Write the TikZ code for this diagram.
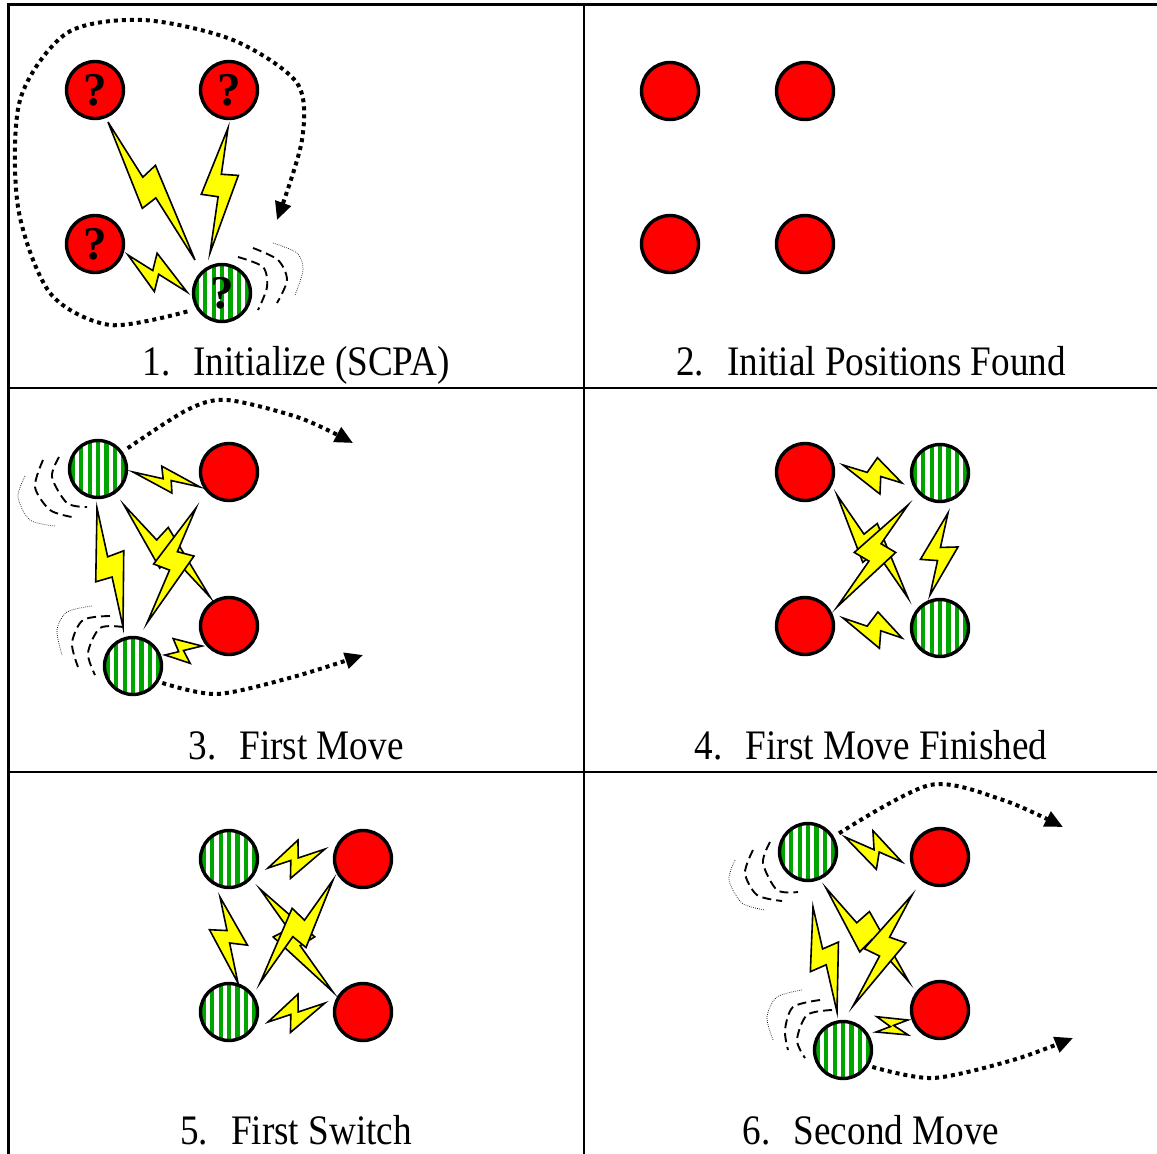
\documentclass[tikz,border=0pt]{standalone}
\usepackage{fontspec}
\setmainfont{Liberation Serif}
\newfontfamily\labelfont[FakeStretch=0.885]{Liberation Serif}
\usetikzlibrary{calc,arrows.meta}

\definecolor{ballred}{RGB}{255,0,0}
\definecolor{boltyellow}{RGB}{255,255,0}
\definecolor{stripegreen}{RGB}{0,165,0}

\tikzset{
  ball/.style={circle, draw=black, line width=3.4pt, minimum size=57pt, inner sep=0pt},
  redball/.style={ball, fill=ballred},
  greenball/.style={ball, fill=white, path picture={
      \foreach \k in {-4,...,4}
        \fill[stripegreen] ([xshift=\k*8.4pt-2.1pt]path picture bounding box.south)
          rectangle ([xshift=\k*8.4pt+2.1pt]path picture bounding box.north);
    }},
  qm/.style={font=\fontsize{47}{47}\selectfont\bfseries},
  boltstyle/.style={draw=black, fill=boltyellow, line width=1.6pt, line join=miter},
  motion/.style={line width=4pt, dash pattern=on 4pt off 4pt,
    -{Triangle[length=18pt,width=16pt]}},
  wake/.style={line width=1.9pt, dash pattern=on 9pt off 5pt},
  wakefaint/.style={line width=0.7pt, dash pattern=on 0.7pt off 1.3pt},
  gridline/.style={line width=2.2pt},
  caption/.style={font=\labelfont\fontsize{42}{42}\selectfont, anchor=base}
}

% lightning bolt from #1 to #2: on-axis notch at #3, side jog at #4,
% second on-axis notch at #5, second jog at #6, jog offset #7 (sign mirrors)
\newcommand\zap[7]{%
  \draw[boltstyle] (#1) -- ($(#1)!#3!(#2)$) -- ($(#1)!#4!(#2)!#7!90:(#2)$)
    -- (#2) -- ($(#1)!#5!(#2)$) -- ($(#1)!#6!(#2)!#7!-90:(#2)$) -- cycle;}

\begin{document}
\begin{tikzpicture}[x=1pt,y=-1pt]
\useasboundingbox (0,0) rectangle (1157,1154);

% table rules
\draw[gridline] (8.5,1154) -- (8.5,4.5) -- (1157,4.5);
\draw[gridline] (584,4.5) -- (584,1154);
\draw[gridline] (8.5,388) -- (1157,388);
\draw[gridline] (8.5,772) -- (1157,772);

% ---------- 1. Initialize ----------
\node[redball,qm] (p1a) at (95,90) {?};
\node[redball,qm] (p1b) at (229,90) {?};
\node[redball,qm] (p1c) at (95,244) {?};
\node[greenball,qm] (p1g) at (222,293) {?};
\zap{108,122}{195,260}{0.40}{0.38}{0.55}{0.56}{17pt}
\zap{228,128}{210,253}{0.37}{0.36}{0.55}{0.55}{17pt}
\zap{128,255}{187,292}{0.42}{0.34}{0.52}{0.60}{17pt}
\draw[wake] plot[smooth] coordinates {(238,257) (263,267) (267,287) (258,310)};
\draw[wake] plot[smooth] coordinates {(253,248) (278,260) (287,280) (277,303)};
\draw[wakefaint] plot[smooth] coordinates {(273,243) (297,253) (303,270) (295,295)};
\coordinate (p1s) at ($(p1g)!1.3!(p1g.208)$);
\coordinate (p1e) at (277,220);
\draw[motion] plot[smooth] coordinates {(p1s) (110,325) (50,293) (18,207) (20,100)
  (67,33) (143,20) (233,40) (297,83) (302,140) (p1e)};
\node[caption] (c1) at (296,375) {1.\hspace{0.55em}Initialize (SCPA)};

% ---------- 2. Initial positions ----------
\node[redball] (p2a) at (670,91) {};
\node[redball] (p2b) at (805,91) {};
\node[redball] (p2c) at (670,244) {};
\node[redball] (p2d) at (805,244) {};
\node[caption] (c2) at (871,375) {2.\hspace{0.55em}Initial Positions Found};

% ---------- 3. First move ----------
\node[greenball] (p3g1) at (98,469) {};
\node[redball] (p3r1) at (229,472) {};
\node[redball] (p3r2) at (229,626) {};
\node[greenball] (p3g2) at (133,666) {};
\zap{133,472}{200,487}{0.45}{0.39}{0.57}{0.62}{12pt}
\zap{97,508}{123,627}{0.41}{0.39}{0.58}{0.59}{17pt}
\zap{124,505}{210,597}{0.38}{0.37}{0.55}{0.56}{17pt}
\zap{196,508}{147,623}{0.38}{0.36}{0.54}{0.545}{17pt}
\zap{165,655}{202,646}{0.37}{0.31}{0.50}{0.59}{14pt}
\draw[wake] plot[smooth] coordinates {(59,457) (52,477) (67,503) (87,507)};
\draw[wake] plot[smooth] coordinates {(43,460) (35,487) (50,510) (72,517)};
\draw[wakefaint] plot[smooth] coordinates {(25,476) (18,497) (30,520) (55,526)};
\draw[wake] plot[smooth] coordinates {(123,627) (100,628) (88,653) (95,675)};
\draw[wake] plot[smooth] coordinates {(110,616) (83,620) (72,643) (78,667)};
\draw[wakefaint] plot[smooth] coordinates {(92,606) (67,612) (57,630) (62,655)};
\coordinate (p3s1) at ($(p3g1)!1.2!(p3g1.35)$);
\coordinate (p3e1) at (353,443);
\draw[motion] plot[smooth] coordinates {(p3s1) (187,410) (227,400) (300,418) (p3e1)};
\coordinate (p3s2) at ($(p3g2)!1.12!(p3g2.-30)$);
\coordinate (p3e2) at (363,655);
\draw[motion] plot[smooth] coordinates {(p3s2) (217,694) (293,677) (p3e2)};
\node[caption] (c3) at (296,759) {3.\hspace{0.55em}First Move};

% ---------- 4. First move finished ----------
\node[redball] (p4r1) at (805,472) {};
\node[greenball] (p4g1) at (940,473) {};
\node[redball] (p4r2) at (805,626) {};
\node[greenball] (p4g2) at (940,628) {};
\zap{843,465}{902,483}{0.41}{0.50}{0.64}{0.71}{17pt}
\zap{843,618}{902,638}{0.41}{0.50}{0.64}{0.71}{17pt}
\zap{948,513}{930,595}{0.42}{0.37}{0.58}{0.61}{17pt}
\zap{837,495}{908,598}{0.38}{0.37}{0.55}{0.56}{17pt}
\zap{908,505}{837,607}{0.38}{0.37}{0.55}{0.56}{17pt}
\node[caption] (c4) at (871,759) {4.\hspace{0.55em}First Move Finished};

% ---------- 5. First switch ----------
\node[greenball] (p5g1) at (229,859) {};
\node[redball] (p5r1) at (363,859) {};
\node[greenball] (p5g2) at (229,1012) {};
\node[redball] (p5r2) at (363,1012) {};
\zap{268,868}{325,849}{0.40}{0.30}{0.53}{0.62}{-17pt}
\zap{268,1022}{325,1003}{0.40}{0.30}{0.53}{0.62}{-17pt}
\zap{220,897}{238,983}{0.39}{0.34}{0.535}{0.60}{-17pt}
\zap{260,889}{333,992}{0.39}{0.37}{0.55}{0.56}{-17pt}
\zap{333,880}{260,983}{0.39}{0.37}{0.55}{0.56}{-17pt}
\node[caption] (c5) at (296,1144) {5.\hspace{0.55em}First Switch};

% ---------- 6. Second move ----------
\node[greenball] (p6g1) at (808,852) {};
\node[redball] (p6r1) at (940,857) {};
\node[redball] (p6r2) at (940,1010) {};
\node[greenball] (p6g2) at (843,1050) {};
\zap{845,837}{902,862}{0.51}{0.37}{0.60}{0.67}{17pt}
\zap{813,907}{837,1012}{0.40}{0.37}{0.55}{0.58}{17pt}
\zap{826,888}{909,982}{0.37}{0.37}{0.55}{0.56}{17pt}
\zap{912,895}{853,1006}{0.38}{0.36}{0.55}{0.555}{17pt}
\zap{876,1032}{908,1020}{0.45}{0.18}{0.55}{0.85}{14pt}
\draw[wake] plot[smooth] coordinates {(770,842) (763,863) (777,890) (798,892)};
\draw[wake] plot[smooth] coordinates {(753,850) (745,873) (757,895) (782,901)};
\draw[wakefaint] plot[smooth] coordinates {(735,860) (729,880) (742,903) (765,910)};
\draw[wake] plot[smooth] coordinates {(832,1010) (807,1015) (797,1040) (805,1058)};
\draw[wake] plot[smooth] coordinates {(820,1000) (793,1007) (785,1030) (788,1050)};
\draw[wakefaint] plot[smooth] coordinates {(802,990) (777,997) (767,1017) (773,1040)};
\coordinate (p6s1) at ($(p6g1)!1.2!(p6g1.31)$);
\coordinate (p6e1) at (1063,827);
\draw[motion] plot[smooth] coordinates {(p6s1) (930,785) (1003,800) (p6e1)};
\coordinate (p6s2) at ($(p6g2)!1.12!(p6g2.-30)$);
\coordinate (p6e2) at (1073,1038);
\draw[motion] plot[smooth] coordinates {(p6s2) (933,1078) (1013,1060) (p6e2)};
\node[caption] (c6) at (871,1144) {6.\hspace{0.55em}Second Move};
\end{tikzpicture}
\end{document}
